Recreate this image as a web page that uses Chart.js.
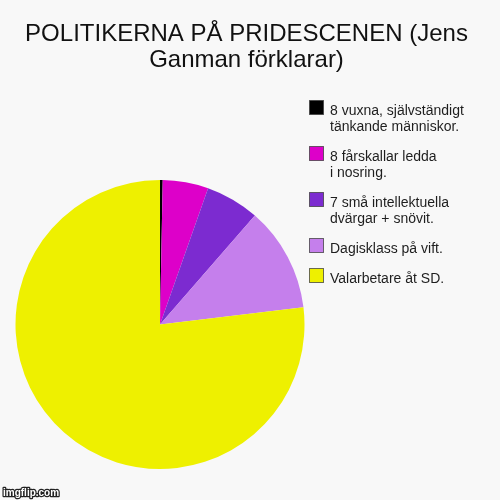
<!DOCTYPE html>
<html>
<head>
<meta charset="utf-8">
<script src="https://cdn.jsdelivr.net/npm/chart.js@4.4.1/dist/chart.umd.min.js"></script>
<style>
  html, body { margin: 0; padding: 0; background: #f8f8f8; }
  #wrap { width: 500px; height: 500px; position: relative; }
</style>
</head>
<body>
<div id="wrap"><canvas id="c" width="500" height="500"></canvas></div>
<script>
const titleLines = ["POLITIKERNA PÅ PRIDESCENEN (Jens", "Ganman förklarar)"];
const categories = [
  ["8 vuxna, självständigt", "tänkande människor."],
  ["8 fårskallar ledda", "i nosring."],
  ["7 små intellektuella", "dvärgar + snövit."],
  ["Dagisklass på vift."],
  ["Valarbetare åt SD."]
];
const values = [0.3, 5.1, 6.0, 11.7, 76.9];
const colors = ["#000000", "#dd00c9", "#7c2bd0", "#c57fec", "#eef000"];
const watermark = "imgflip.com";

const decorPlugin = {
  id: 'decor',
  beforeDraw(chart) {
    const ctx = chart.ctx;
    ctx.save();
    ctx.fillStyle = '#f8f8f8';
    ctx.fillRect(0, 0, chart.width, chart.height);
    ctx.restore();
  },
  afterDraw(chart) {
    const ctx = chart.ctx;
    ctx.save();
    // title
    ctx.fillStyle = '#111';
    ctx.font = '24px "Liberation Sans", Arial, sans-serif';
    ctx.textAlign = 'center';
    ctx.textBaseline = 'alphabetic';
    ctx.fillText(titleLines[0], 246.5, 41);
    ctx.fillText(titleLines[1], 246.5, 67);
    // legend
    const labels = chart.data.labels;
    const bg = chart.data.datasets[0].backgroundColor;
    ctx.textAlign = 'left';
    ctx.font = '14px "Liberation Sans", Arial, sans-serif';
    let y = 115;
    for (let i = 0; i < labels.length; i++) {
      const lines = labels[i];
      ctx.fillStyle = bg[i];
      ctx.fillRect(309.5, y - 14.5, 14, 14);
      ctx.strokeStyle = 'rgba(60,60,60,0.75)';
      ctx.lineWidth = 1;
      ctx.strokeRect(309.5, y - 14.5, 14, 14);
      ctx.fillStyle = '#1e1e1e';
      lines.forEach((t, j) => ctx.fillText(t, 330, y + j * 16));
      y += 30 + (lines.length - 1) * 16;
    }
    // watermark
    ctx.font = 'bold 10px "Liberation Sans", Arial, sans-serif';
    ctx.lineWidth = 2.5;
    ctx.strokeStyle = '#222';
    ctx.lineJoin = 'round';
    ctx.strokeText(watermark, 3, 496);
    ctx.fillStyle = '#fff';
    ctx.fillText(watermark, 3, 496);
    ctx.restore();
  }
};

new Chart(document.getElementById('c'), {
  type: 'pie',
  data: {
    labels: categories,
    datasets: [{
      data: values,
      backgroundColor: colors,
      borderWidth: 0
    }]
  },
  options: {
    responsive: false,
    animation: false,
    layout: { padding: { left: 15, right: 195, top: 180, bottom: 31 } },
    plugins: {
      legend: { display: false },
      title: { display: false },
      tooltip: { enabled: false }
    }
  },
  plugins: [decorPlugin]
});
</script>
</body>
</html>
